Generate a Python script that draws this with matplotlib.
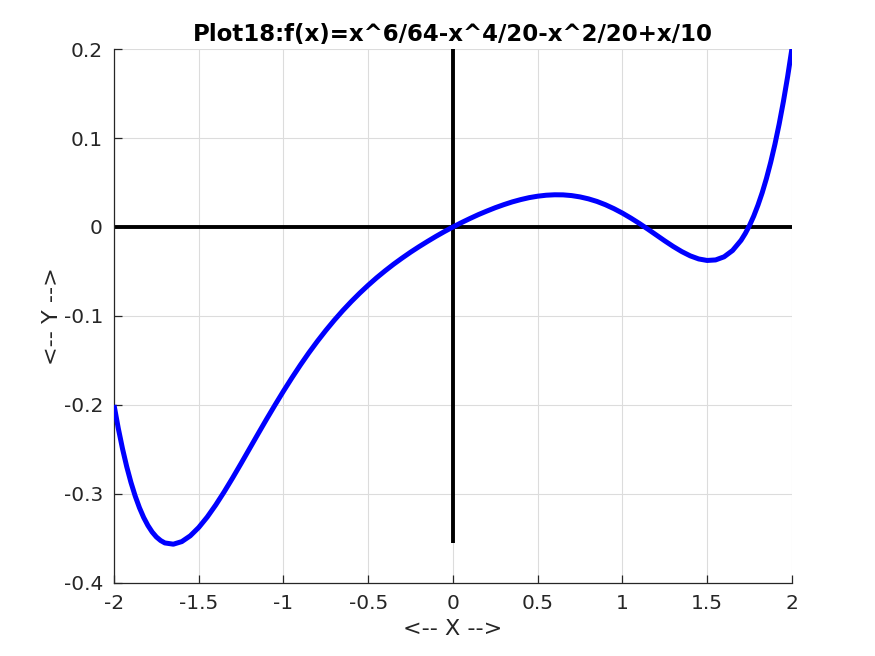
import matplotlib
matplotlib.use("Agg")
import matplotlib.pyplot as plt

# Curve values
x_vals = [-2.0, -1.975, -1.95, -1.925, -1.9, -1.875, -1.85, -1.825, -1.8, -1.775, -1.75, -1.725,
          -1.7, -1.65, -1.6, -1.55, -1.5, -1.45, -1.4, -1.35,
          -1.3, -1.25, -1.2, -1.15, -1.1, -1.05, -1.0, -0.95, -0.9, -0.85, -0.8, -0.75, -0.7, -0.65,
          -0.6, -0.55, -0.5, -0.45, -0.4, -0.35, -0.3, -0.25, -0.2, -0.15, -0.1, -0.05,
          0.0, 0.05, 0.1, 0.15, 0.2, 0.25, 0.3, 0.35, 0.4, 0.45, 0.5, 0.55, 0.6, 0.65, 0.7, 0.75,
          0.8, 0.85, 0.9, 0.95, 1.0, 1.05, 1.1, 1.15, 1.2, 1.25, 1.3, 1.35,
          1.4, 1.45, 1.5, 1.55, 1.6, 1.65, 1.7, 1.725, 1.75, 1.775, 1.8, 1.825, 1.85, 1.875,
          1.9, 1.925, 1.95, 1.975, 2.0]
y_vals = [-0.2000, -0.2260, -0.2490, -0.2693, -0.2870, -0.3023, -0.3154, -0.3264, -0.3354, -0.3427,
          -0.3483, -0.3523,
          -0.3550, -0.3564, -0.3535, -0.3470,
          -0.3376, -0.3259, -0.3124, -0.2976, -0.2819, -0.2656, -0.2490, -0.2324, -0.2160, -0.2000,
          -0.1844, -0.1694, -0.1550, -0.1413, -0.1284, -0.1162, -0.1047, -0.0939, -0.0838, -0.0743,
          -0.0654, -0.0570, -0.0492, -0.0418, -0.0349, -0.0283, -0.0221, -0.0162, -0.0105, -0.0051,
          0.0000, 0.0049, 0.0095, 0.0139, 0.0179, 0.0217, 0.0251, 0.0282, 0.0308, 0.0330,
          0.0346, 0.0357, 0.0362, 0.0361, 0.0353, 0.0338, 0.0316, 0.0287, 0.0250, 0.0206,
          0.0156, 0.0100, 0.0040, -0.0024, -0.0090, -0.0156, -0.0219, -0.0276, -0.0324, -0.0359,
          -0.0376, -0.0370, -0.0335, -0.0264, -0.0150, -0.0073, 0.0017, 0.0123, 0.0246, 0.0386,
          0.0546, 0.0727, 0.0930, 0.1157, 0.1410, 0.1690, 0.2000]

# Reference axes lines
h_axis_x = [-2.0, 2.0]
h_axis_y = [0.0, 0.0]
v_axis_x = [0.0, 0.0]
v_axis_y = [-0.355, 0.2]

x_ticks = [-2, -1.5, -1, -0.5, 0, 0.5, 1, 1.5, 2]
x_tick_labels = ["-2", "-1.5", "-1", "-0.5", "0", "0.5", "1", "1.5", "2"]
y_ticks = [-0.4, -0.3, -0.2, -0.1, 0, 0.1, 0.2]
y_tick_labels = ["-0.4", "-0.3", "-0.2", "-0.1", "0", "0.1", "0.2"]

title = "Plot18:f(x)=x^6/64-x^4/20-x^2/20+x/10"
xlabel = "<-- X -->"
ylabel = "<-- Y -->"

plt.rcParams['font.family'] = ['DejaVu Sans']
fig = plt.figure(figsize=(8.75, 6.56), dpi=100)
ax = fig.add_axes([0.1303, 0.1113, 0.905 - 0.1303, 0.9253 - 0.1113])

ax.plot(x_vals, y_vals, color='#0000ff', lw=3.6, solid_capstyle='butt',
        solid_joinstyle='round', zorder=3)
ax.plot(h_axis_x, h_axis_y, color='black', lw=2.8, zorder=2, solid_capstyle='butt')
ax.plot(v_axis_x, v_axis_y, color='black', lw=2.8, zorder=2, solid_capstyle='butt')

ax.set_xlim(-2, 2)
ax.set_ylim(-0.4, 0.2)
ax.set_xticks(x_ticks)
ax.set_xticklabels(x_tick_labels)
ax.set_yticks(y_ticks)
ax.set_yticklabels(y_tick_labels)

ax.grid(True, color='#dcdcdc', lw=0.8, zorder=0)
ax.set_axisbelow(True)
for s in ['top', 'right']:
    ax.spines[s].set_visible(False)
for s in ['left', 'bottom']:
    ax.spines[s].set_color('#262626')
    ax.spines[s].set_linewidth(0.9)
ax.tick_params(direction='in', length=6, width=0.9, colors='#262626',
               labelsize=14.5, pad=8)

ax.set_title(title, fontsize=16.5, fontweight='bold', pad=6)
ax.set_xlabel(xlabel, fontsize=16, color='#262626', labelpad=4)
ax.set_ylabel(ylabel, fontsize=16, color='#262626', labelpad=1)

fig.savefig("out.png", dpi=100)
